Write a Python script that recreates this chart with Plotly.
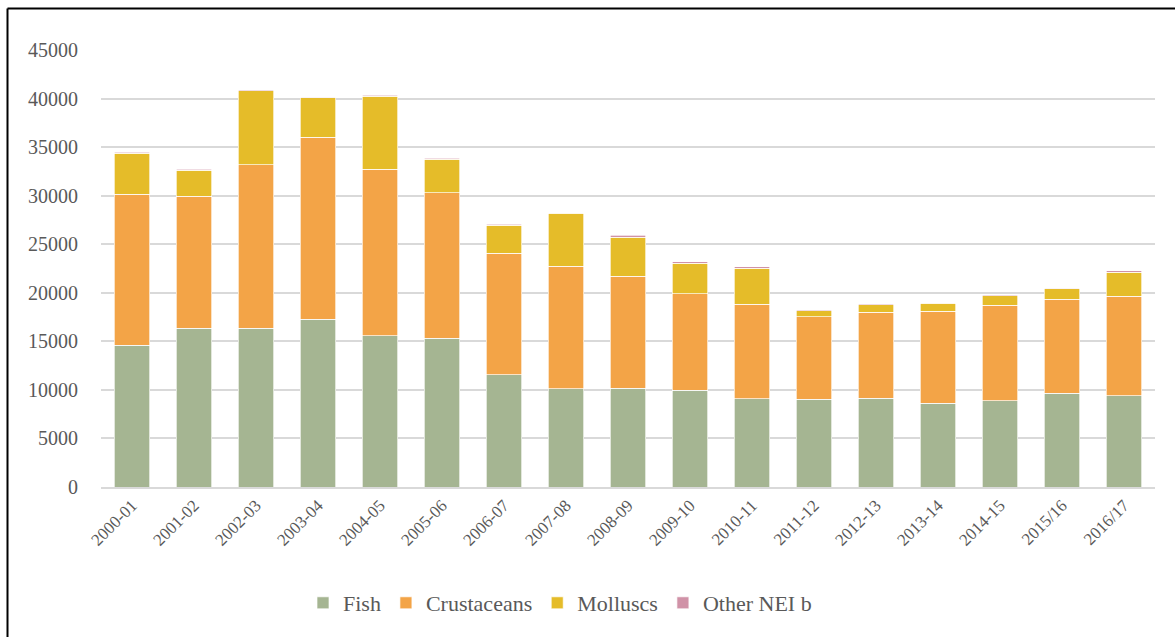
import plotly.graph_objects as go

# Seasons on the category axis
seasons = ["2000-01", "2001-02", "2002-03", "2003-04", "2004-05", "2005-06",
           "2006-07", "2007-08", "2008-09", "2009-10", "2010-11", "2011-12",
           "2012-13", "2013-14", "2014-15", "2015/16", "2016/17"]

# Stacked quantities per group
fish = [14600, 16350, 16350, 17300, 15600, 15330, 11550, 10100, 10180,
        9940, 9080, 9050, 9150, 8600, 8900, 9670, 9390]
crustaceans = [15550, 13600, 16850, 18700, 17100, 14980, 12520, 12640, 11530,
               9980, 9750, 8500, 8850, 9500, 9820, 9670, 10260]
molluscs = [4220, 2680, 7600, 4100, 7550, 3430, 2880, 5450, 4010,
            3130, 3700, 620, 780, 830, 990, 1060, 2470]
other_nei = [100, 100, 120, 60, 100, 100, 130, 30, 200,
             130, 130, 70, 70, 60, 70, 70, 130]

y_ticks = [0, 5000, 10000, 15000, 20000, 25000, 30000, 35000, 40000, 45000]

series = [
    ("Fish", fish, "#A5B592"),
    ("Crustaceans", crustaceans, "#F3A447"),
    ("Molluscs", molluscs, "#E5BC29"),
    ("Other NEI b", other_nei, "#D092A7"),
]

FONT = "Liberation Serif"
TEXT = "#595959"

fig = go.Figure()
for name, vals, col in series:
    fig.add_trace(go.Bar(
        x=seasons, y=vals, name=name,
        marker=dict(color=col, line=dict(color="rgba(255,255,255,0.85)", width=0.8)),
    ))

W, H = 1175, 637
ML, MR, MT, MB = 101, 20, 50, 150
pw, ph = W - ML - MR, H - MT - MB


def px_x(p):
    return (p - ML) / pw


def px_y(p):
    return (H - MB - p) / ph


fig.update_layout(
    width=W, height=H,
    margin=dict(l=ML, r=MR, t=MT, b=MB),
    barmode="stack",
    bargap=0.42,
    paper_bgcolor="white",
    plot_bgcolor="white",
    font=dict(family=FONT, color=TEXT),
    showlegend=True,
    legend=dict(
        orientation="h",
        x=px_x(560), xanchor="center",
        y=px_y(603), yanchor="middle",
        font=dict(size=22, color=TEXT, family=FONT),
        traceorder="normal",
        itemwidth=30,
    ),
    xaxis=dict(
        type="category",
        tickangle=-45,
        tickfont=dict(size=17, color=TEXT, family=FONT),
        showgrid=False,
        showline=True, linecolor="#D9D9D9", linewidth=1.5,
        ticks="",
    ),
    yaxis=dict(
        range=[0, 45000],
        tickvals=y_ticks,
        ticktext=[str(v) for v in y_ticks],
        tickfont=dict(size=20, color=TEXT, family=FONT),
        showgrid=True, gridcolor="#D9D9D9", gridwidth=1.5,
        zeroline=False,
        showline=False,
        ticks="",
        ticklabelstandoff=22,
    ),
    shapes=[
        # chart frame: top and left edges
        dict(type="line", xref="paper", yref="paper",
             x0=px_x(7.5), x1=px_x(1180), y0=px_y(8.5), y1=px_y(8.5),
             line=dict(color="black", width=2)),
        dict(type="line", xref="paper", yref="paper",
             x0=px_x(7.5), x1=px_x(7.5), y0=px_y(8.5), y1=px_y(645),
             line=dict(color="black", width=2)),
    ],
)

fig.write_html("out.html")
